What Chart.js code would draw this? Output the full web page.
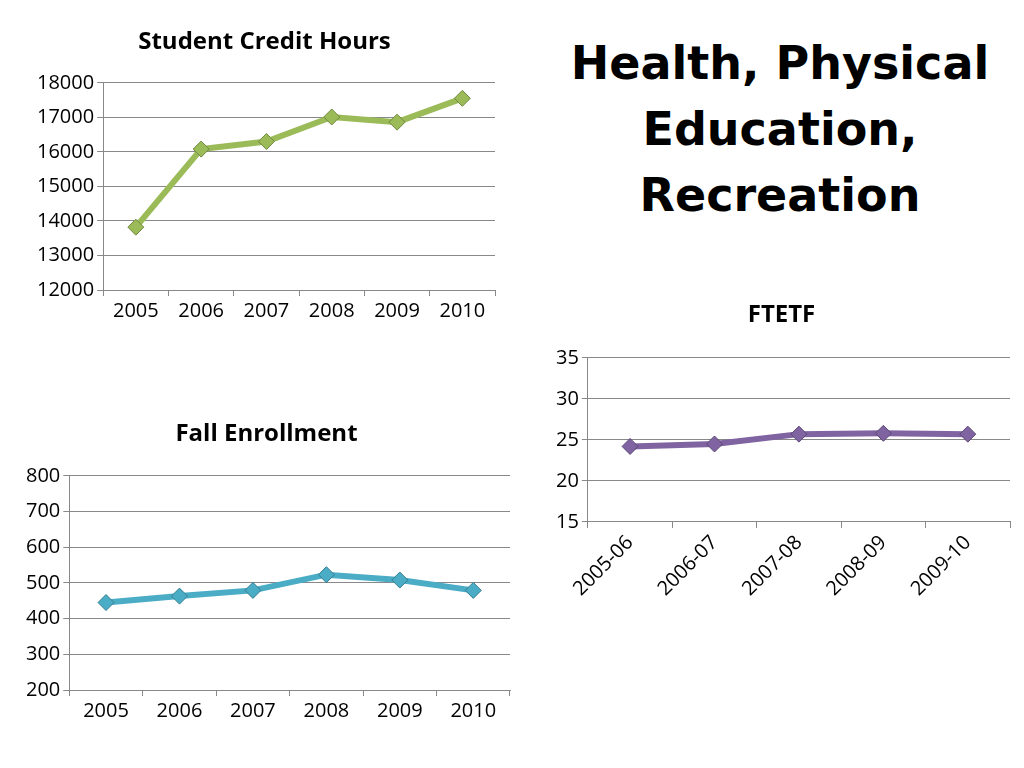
<!DOCTYPE html>
<html>
<head>
<script src="https://cdn.jsdelivr.net/npm/chart.js@4/dist/chart.umd.min.js"></script>
<style>
body { margin:0; background:#fff; width:1024px; height:768px; position:relative; overflow:hidden; }
.box { position:absolute; }
#title { position:absolute; left:540px; top:30px; width:480px; text-align:center;
  font-family:"DejaVu Sans", sans-serif; font-weight:bold; font-size:46px; line-height:66px; color:#000; }
</style>
</head>
<body>
<div id="title">Health, Physical<br>Education,<br>Recreation</div>
<div class="box" style="left:0;top:10px;width:505px;height:316px"><canvas id="c1"></canvas></div>
<div class="box" style="left:0;top:400px;width:520px;height:326px"><canvas id="c2"></canvas></div>
<div class="box" style="left:520px;top:285px;width:500px;height:319px"><canvas id="c3"></canvas></div>
<script>
const years = ['2005', '2006', '2007', '2008', '2009', '2010'];
const creditHours = [13820, 16080, 16300, 17010, 16860, 17550];
const enrollment = [445, 463, 479, 523, 508, 479];
const ftetfYears = ['2005-06', '2006-07', '2007-08', '2008-09', '2009-10'];
const ftetf = [24.2, 24.5, 25.7, 25.8, 25.7];

Chart.defaults.font.family = '"Open Sans", sans-serif';
Chart.defaults.color = '#000';

function makeChart(id, title, labels, data, color, border, min, max, step, rotate, pad, titleGap) {
  new Chart(document.getElementById(id), {
    type: 'line',
    data: { labels: labels, datasets: [{
      data: data, borderColor: color, borderWidth: 6,
      pointStyle: 'rectRot', pointRadius: 8, pointBackgroundColor: color,
      pointBorderColor: border, pointBorderWidth: 1
    }]},
    options: {
      responsive: true, maintainAspectRatio: false, animation: false,
      layout: { padding: { left: pad.left, top: pad.top, right: 10 } },
      plugins: {
        legend: { display: false },
        title: { display: true, text: title, font: { size: 24, weight: 'bold' }, padding: { top: 10, bottom: titleGap } }
      },
      scales: {
        x: {
          offset: true,
          grid: { display: true, offset: true, drawOnChartArea: false, color: '#888', tickLength: 6 },
          border: { color: '#888' },
          ticks: { font: { size: 20 }, maxRotation: rotate, minRotation: rotate }
        },
        y: {
          min: min, max: max,
          ticks: { stepSize: step, font: { size: 20 }, callback: v => String(v) },
          grid: { color: '#888', tickLength: 6 },
          border: { color: '#888' }
        }
      }
    }
  });
}

makeChart('c1', 'Student Credit Hours', years, creditHours, '#9BBB59', '#71893F', 12000, 18000, 1000, 0, { left: 34, top: 8 }, 26);
makeChart('c2', 'Fall Enrollment', years, enrollment, '#4BACC6', '#357D91', 200, 800, 100, 0, { left: 23, top: 10 }, 27);
makeChart('c3', 'FTETF', ftetfYears, ftetf, '#8064A2', '#5C4776', 15, 35, 5, 45, { left: 33, top: 6 }, 28);
</script>
</body>
</html>
